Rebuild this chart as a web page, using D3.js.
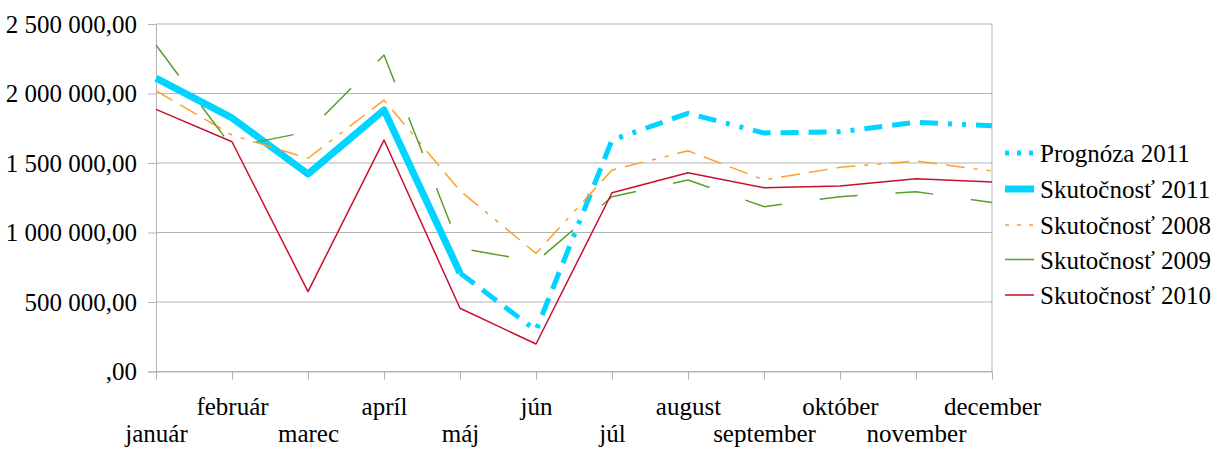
<!DOCTYPE html>
<html>
<head>
<meta charset="utf-8">
<script src="https://cdn.jsdelivr.net/npm/d3@7"></script>
<style>
  body { margin: 0; background: #fff; }
  svg { display: block; }
  text { font-family: "Liberation Serif", "Times New Roman", serif; fill: #000; }
</style>
</head>
<body>
<svg id="chart" width="1224" height="453"></svg>
<script>
var months = ['január', 'február', 'marec', 'apríl', 'máj', 'jún', 'júl',
  'august', 'september', 'október', 'november', 'december']
var yTicks = [0, 500000, 1000000, 1500000, 2000000, 2500000]

var prognoza2011 = [null, null, null, null, 709000, 295000, 1665000, 1857000, 1716000, 1725000, 1793000, 1768000]
var skut2011 = [2111000, 1824000, 1421000, 1881000, 709000, null, null, null, null, null, null, null]
var skut2008 = [2020000, 1701000, 1534000, 1953000, 1300000, 850000, 1449000, 1588000, 1378000, 1469000, 1514000, 1442000]
var skut2009 = [2349000, 1615000, 1725000, 2277000, 888000, 790000, 1257000, 1378000, 1186000, 1258000, 1294000, 1215000]
var skut2010 = [1886000, 1653000, 575000, 1665000, 455000, 198000, 1286000, 1430000, 1322000, 1335000, 1387000, 1363000]

var series = [
  { name: 'Prognóza 2011', values: prognoza2011, color: '#00d4ff', width: 5, dash: '18,10,18,10,18,10,4,10,4,10', legendDash: '4,8' },
  { name: 'Skutočnosť 2011', values: skut2011, color: '#00d4ff', width: 7, dash: null },
  { name: 'Skutočnosť 2008', values: skut2008, color: '#ff9f2a', width: 1.5, dash: '19,9,19,9,19,9,4,9,4,9', legendDash: '4,8' },
  { name: 'Skutočnosť 2009', values: skut2009, color: '#5a9e2a', width: 1.5, dash: '38,38', legendDash: null },
  { name: 'Skutočnosť 2010', values: skut2010, color: '#c8102e', width: 1.5, dash: null }
]

var svg = d3.select('#chart')
var plotLeft = 156, plotRight = 992, plotTop = 24, plotBottom = 371.5

var x = d3.scalePoint().domain(months).range([plotLeft, plotRight]).padding(0)
var y = d3.scaleLinear().domain([0, 2500000]).range([plotBottom, plotTop])

var locale = d3.formatLocale({ decimal: ',', thousands: ' ', grouping: [3], currency: ['', ''] })
var fmt = locale.format(',.2f')

// grid
svg.append('g')
  .selectAll('line')
  .data(yTicks)
  .enter().append('line')
  .attr('x1', plotLeft).attr('x2', plotRight)
  .attr('y1', function(d) { return y(d) }).attr('y2', function(d) { return y(d) })
  .attr('stroke', '#b3b3b3').attr('stroke-width', 1)
svg.append('line')
  .attr('x1', plotRight).attr('x2', plotRight).attr('y1', plotTop).attr('y2', plotBottom)
  .attr('stroke', '#b3b3b3')

// y axis
var yAxis = svg.append('g')
  .attr('transform', 'translate(' + plotLeft + ',0)')
  .call(d3.axisLeft(y).tickValues(yTicks).tickSize(8).tickPadding(11)
    .tickFormat(function(d) { return d === 0 ? ',00' : fmt(d) }))
yAxis.select('.domain').attr('stroke', '#b3b3b3')
yAxis.selectAll('.tick line').attr('stroke', '#b3b3b3')
yAxis.selectAll('.tick text')
  .attr('font-size', 25).attr('font-family', '"Liberation Serif", serif')
  .attr('dy', '0.32em')

// x axis
var xAxis = svg.append('g')
  .attr('transform', 'translate(0,' + plotBottom + ')')
  .call(d3.axisBottom(x).tickSize(8).tickSizeOuter(0))
xAxis.select('.domain').attr('stroke', '#b3b3b3')
xAxis.selectAll('.tick line').attr('stroke', '#b3b3b3')
xAxis.selectAll('.tick text')
  .attr('font-size', 25).attr('font-family', '"Liberation Serif", serif')
  .attr('dy', null)
  .attr('y', function(d, i) { return i % 2 === 1 ? 43.5 : 70 })

// lines
var line = d3.line()
  .defined(function(d) { return d != null })
  .x(function(d, i) { return x(months[i]) })
  .y(function(d) { return y(d) })

series.forEach(function(s) {
  svg.append('path')
    .datum(s.values)
    .attr('d', line)
    .attr('fill', 'none')
    .attr('stroke', s.color)
    .attr('stroke-width', s.width)
    .attr('stroke-linejoin', 'round')
    .attr('stroke-dasharray', s.dash)
})

// legend
var legend = svg.append('g').attr('transform', 'translate(1005,0)')
var rowY = [153, 189, 225, 259.5, 295]
series.forEach(function(s, i) {
  var g = legend.append('g').attr('transform', 'translate(0,' + rowY[i] + ')')
  g.append('line')
    .attr('x1', 0).attr('x2', 29)
    .attr('stroke', s.color)
    .attr('stroke-width', s.width)
    .attr('stroke-dasharray', s.legendDash || null)
  g.append('text')
    .attr('x', 35).attr('y', 9)
    .attr('font-size', 25)
    .text(s.name)
})
</script>
</body>
</html>
